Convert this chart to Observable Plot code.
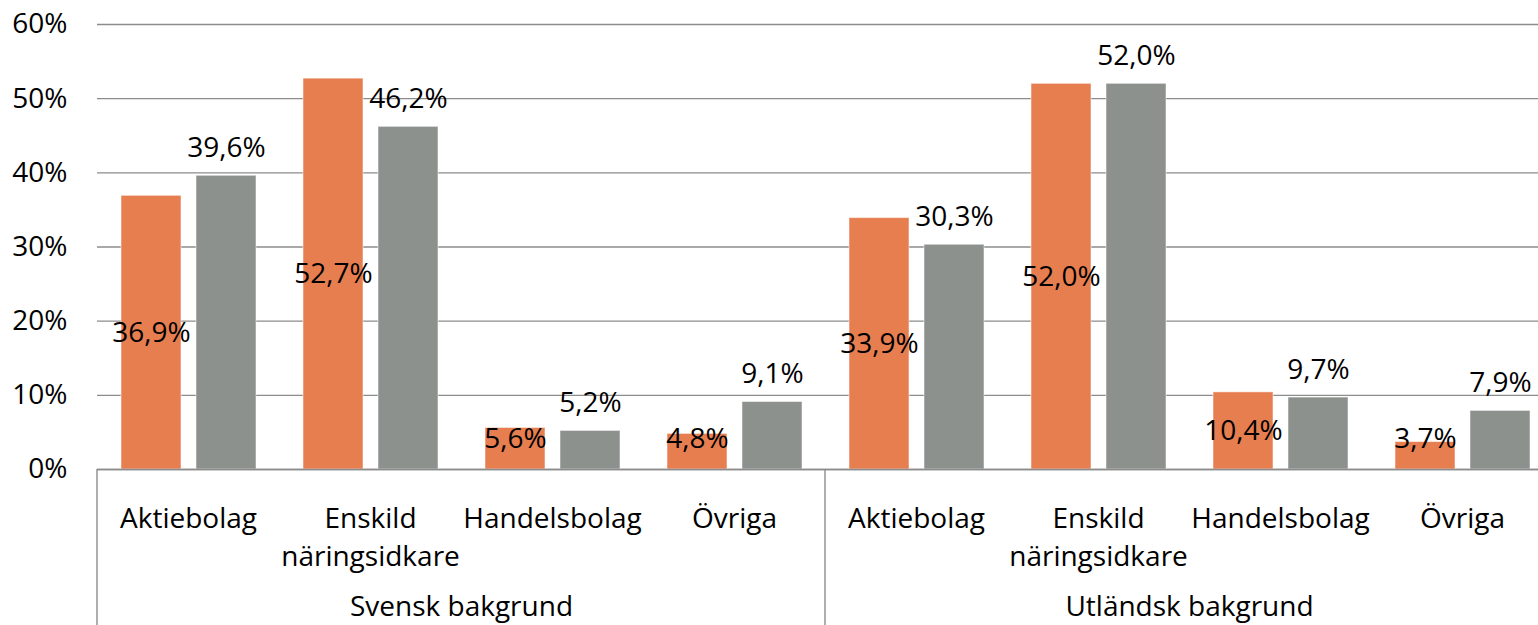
<!DOCTYPE html>
<html>
<head>
<meta charset="utf-8">
<script src="https://cdn.jsdelivr.net/npm/d3@7"></script>
<script src="https://cdn.jsdelivr.net/npm/@observablehq/plot@0.6"></script>
<style>
  html, body { margin: 0; padding: 0; background: #fff; overflow: hidden; }
</style>
</head>
<body>
<div id="chart"></div>
<script>
// ---- data ----
const groups = ["Svensk bakgrund", "Utländsk bakgrund"];
const categories = ["Aktiebolag", "Enskild\nnäringsidkare", "Handelsbolag", "Övriga"];
const series = ["Serie 1", "Serie 2"];
const seriesOrange = [36.9, 52.7, 5.6, 4.8, 33.9, 52.0, 10.4, 3.7];
const seriesGray   = [39.6, 46.2, 5.2, 9.1, 30.3, 52.0, 9.7, 7.9];
const yTicks = [0, 10, 20, 30, 40, 50, 60];
const yTickLabels = ["0%", "10%", "20%", "30%", "40%", "50%", "60%"];
const colors = ["#E77E50", "#8C918E"];

// ---- build table ----
const keys = [];
const cats = [];
groups.forEach(g => categories.forEach(c => {
  const k = g + "|" + c;
  keys.push(k);
  cats.push({key: k, group: g, category: c});
}));
const rows = [];
keys.forEach((k, i) => {
  rows.push({key: k, series: series[0], value: seriesOrange[i]});
  rows.push({key: k, series: series[1], value: seriesGray[i]});
});
const orangeRows = rows.filter(d => d.series === series[0]);
const grayRows = rows.filter(d => d.series === series[1]);
const fmt = v => v.toFixed(1).replace(".", ",") + "%";
const groupLabelRows = groups.map(g => ({key: g + "|" + categories[1], group: g}));

const gridColor = "#8c8c8c";

const plot = Plot.plot({
  width: 1538,
  height: 625,
  marginLeft: 97,
  marginRight: -15,
  marginTop: 24,
  marginBottom: 156,
  style: {fontFamily: "'Open Sans', sans-serif", fontSize: "28px", color: "#000", background: "#fff"},
  fx: {domain: keys, padding: 0, axis: null, label: null},
  x: {domain: series, paddingInner: 0.2, paddingOuter: 0.313, axis: null},
  y: {domain: [0, 60], axis: null},
  color: {domain: series, range: colors},
  marks: [
    Plot.gridY(yTicks, {stroke: gridColor, strokeOpacity: 1, strokeWidth: 1.4}),
    Plot.axisY(yTicks, {tickSize: 0, tickPadding: 30, tickFormat: (d) => yTickLabels[yTicks.indexOf(d)], fontSize: 28, label: null}),
    Plot.barY(rows, {fx: "key", x: "series", y: "value", fill: "series", stroke: "#fff", strokeOpacity: 0.5, strokeWidth: 1}),
    Plot.ruleY([0], {stroke: gridColor, strokeWidth: 1.4}),
    Plot.text(orangeRows, {fx: "key", x: "series", y: d => Math.max(d.value / 2, 4.1), text: d => fmt(d.value), lineAnchor: "middle", fill: "#000"}),
    Plot.text(grayRows, {fx: "key", x: "series", y: "value", text: d => fmt(d.value), lineAnchor: "middle", dy: -28, fill: "#000"}),
    Plot.text(cats, {fx: "key", text: "category", frameAnchor: "bottom", lineAnchor: "top", dy: 31, lineHeight: 1.36, fill: "#000"}),
    Plot.text(groupLabelRows, {fx: "key", text: "group", frameAnchor: "bottom-right", textAnchor: "middle", lineAnchor: "top", dy: 127, fill: "#000"})
  ]
});

document.getElementById("chart").appendChild(plot);

// group separators below the axis, positioned from the library's scales
const fxS = plot.scale("fx");
const yS = plot.scale("y");
const band = d3.scaleBand().domain(fxS.domain).range(fxS.range)
  .paddingInner(fxS.paddingInner || 0).paddingOuter(fxS.paddingOuter || 0).align(fxS.align ?? 0.5);
const y0 = yS.apply ? yS.apply(0) : d3.scaleLinear().domain(yS.domain).range(yS.range)(0);
const sepX = groups.map(g => band(g + "|" + categories[0]));
sepX.push(band(keys[keys.length - 1]) + band.bandwidth());
d3.select(plot).append("g").attr("aria-label", "group separators")
  .selectAll("line").data(sepX).join("line")
  .attr("x1", d => d).attr("x2", d => d)
  .attr("y1", y0).attr("y2", 625)
  .attr("stroke", gridColor).attr("stroke-width", 1.4);
</script>
</body>
</html>
